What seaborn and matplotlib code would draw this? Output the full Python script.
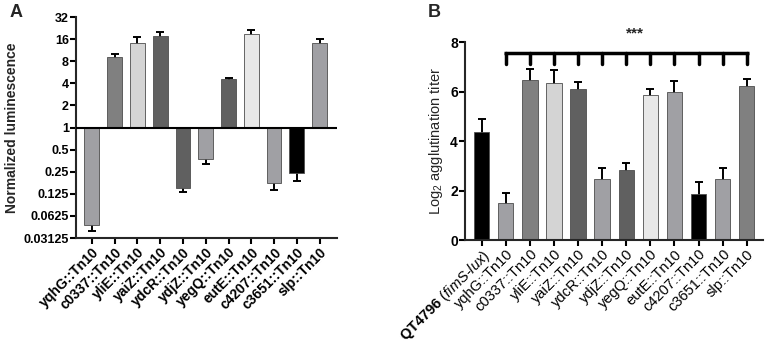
import numpy as np
import pandas as pd
import matplotlib
matplotlib.use('Agg')
import matplotlib.pyplot as plt
import seaborn as sns

sns.set_theme(style='ticks')
plt.rcParams['font.family'] = ['Liberation Sans', 'DejaVu Sans']
plt.rcParams['mathtext.fontset'] = 'custom'
plt.rcParams['mathtext.rm'] = 'Liberation Sans'
plt.rcParams['mathtext.it'] = 'Liberation Sans:italic'
plt.rcParams['mathtext.bf'] = 'Liberation Sans:bold'

# Panel A — normalized luminescence (log2 axis)
mutants_a = ['yqhG::Tn10', 'c0337::Tn10', 'yliE::Tn10', 'yaiZ::Tn10', 'ydcR::Tn10', 'ydjZ::Tn10',
             'yegQ::Tn10', 'eutE::Tn10', 'c4207::Tn10', 'c3651::Tn10', 'slp::Tn10']
lum = [0.0465, 9.24, 14.2, 17.8, 0.150, 0.374, 4.54, 18.6, 0.173, 0.237, 14.0]
lum_err = [0.0072, 0.8, 2.9, 2.5, 0.018, 0.053, 0.25, 3.0, 0.030, 0.049, 2.0]
colors_a = ['#a0a0a4', '#808080', '#d4d4d4', '#606060', '#606060', '#a0a0a4',
            '#606060', '#e8e8e8', '#a0a0a4', '#000000', '#a0a0a4']
lum_ticks = ['0.03125', '0.0625', '0.125', '0.25', '0.5', '1', '2', '4', '8', '16', '32']

# Panel B — agglutination titer
strains_b = ['QT4796 (fimS-lux)', 'yqhG::Tn10', 'c0337::Tn10', 'yliE::Tn10', 'yaiZ::Tn10', 'ydcR::Tn10',
             'ydjZ::Tn10', 'yegQ::Tn10', 'eutE::Tn10', 'c4207::Tn10', 'c3651::Tn10', 'slp::Tn10']
titer = [4.37, 1.48, 6.48, 6.36, 6.10, 2.47, 2.85, 5.86, 5.99, 1.85, 2.47, 6.24]
titer_err = [0.51, 0.43, 0.42, 0.52, 0.28, 0.43, 0.27, 0.26, 0.42, 0.49, 0.43, 0.28]
colors_b = ['#000000', '#a0a0a4', '#808080', '#d4d4d4', '#606060', '#a0a0a4',
            '#606060', '#e8e8e8', '#a0a0a4', '#000000', '#a0a0a4', '#808080']

fig = plt.figure(figsize=(7.67, 3.48), dpi=100)
ax1 = fig.add_axes([0.099, 0.316, 0.340, 0.635])
ax2 = fig.add_axes([0.606, 0.310, 0.389, 0.569])

# ---- A ----
lum = np.array(lum)
lum_err = np.array(lum_err)
log_lum = np.log2(lum)
end = np.where(lum >= 1, lum + lum_err, lum - lum_err)
log_err = np.abs(np.log2(end) - log_lum)
df_a = pd.DataFrame({'mutant': mutants_a, 'log2': log_lum})
sns.barplot(data=df_a, x='mutant', y='log2', hue='mutant', palette=colors_a, legend=False,
            saturation=1, width=0.65, edgecolor='#4d4d4d', linewidth=0.6, ax=ax1, zorder=2)
ax1.errorbar(np.arange(len(mutants_a)), log_lum, yerr=log_err, fmt='none', ecolor='black',
             elinewidth=1.4, capsize=3, capthick=1.4, zorder=1)
ax1.axhline(0, color='black', lw=1.5, zorder=3)
ax1.set_ylim(-5, 5)
ax1.set_xlim(-0.7, 10.75)
ax1.set_yticks(np.arange(-5, 6))
ax1.set_yticklabels(lum_ticks, fontsize=9, fontweight='bold')
ax1.set_xticks(np.arange(len(mutants_a)))
ax1.set_xticklabels(mutants_a, rotation=45, ha='right', rotation_mode='anchor',
                    fontsize=10, fontweight='bold')
ax1.set_xlabel('')
ax1.set_ylabel('Normalized luminescence', fontsize=10, fontweight='bold', labelpad=3)
ax1.spines[['top', 'right']].set_visible(False)
for s in ['left', 'bottom']:
    ax1.spines[s].set_linewidth(1.5)
ax1.tick_params(width=1.5, length=4, pad=1, colors='black')

# ---- B ----
df_b = pd.DataFrame({'strain': strains_b, 'titer': titer})
sns.barplot(data=df_b, x='strain', y='titer', hue='strain', palette=colors_b, legend=False,
            saturation=1, width=0.64, edgecolor='#4d4d4d', linewidth=0.6, ax=ax2, zorder=2)
ax2.errorbar(np.arange(len(strains_b)), titer, yerr=titer_err, fmt='none', ecolor='black',
             elinewidth=1.4, capsize=3, capthick=1.4, zorder=1)
ax2.set_ylim(0, 8)
ax2.set_xlim(-0.7, 11.68)
ax2.set_yticks([0, 2, 4, 6, 8])
ax2.set_yticklabels(['0', '2', '4', '6', '8'], fontsize=10, fontweight='bold')
labels_b = [r'$\mathbf{QT4796}$ ($\mathit{fimS}$-$\mathit{lux}$)'] + strains_b[1:]
ax2.set_xticks(np.arange(len(strains_b)))
ax2.set_xticklabels(labels_b, rotation=45, ha='right', rotation_mode='anchor', fontsize=10.5)
ax2.set_xlabel('')
ax2.set_ylabel(r'Log$_2$ agglutination titer', fontsize=10.5, labelpad=4)
ax2.spines[['top', 'right']].set_visible(False)
for s in ['left', 'bottom']:
    ax2.spines[s].set_linewidth(1.5)
ax2.tick_params(width=1.5, length=4, pad=1, colors='black')

# significance bracket
br_y, br_tick = 7.55, 7.12
ax2.plot([0.93, 11.1], [br_y, br_y], color='black', lw=2.5, clip_on=False, solid_capstyle='butt')
for i in range(1, len(strains_b)):
    ax2.plot([i, i], [br_y, br_tick], color='black', lw=2.5, clip_on=False)
ax2.text(6.36, 8.05, '***', ha='center', va='bottom', fontsize=11, fontweight='bold', clip_on=False)

# panel letters
fig.text(10 / 767, 1 - 4 / 348, 'A', fontsize=13, fontweight='bold', va='top', ha='left')
fig.text(428 / 767, 1 - 4 / 348, 'B', fontsize=13, fontweight='bold', va='top', ha='left')

fig.savefig('out.png', dpi=100)
